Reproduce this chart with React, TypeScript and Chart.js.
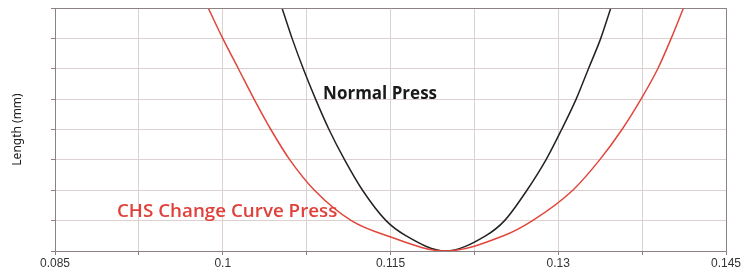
import React, { useEffect, useRef } from "react";
import { Chart, registerables } from "chart.js";

Chart.register(...registerables);

// Length levels (y values, mm, unlabeled gridline units)
const levels = [8, 7, 6, 5, 4, 3, 2, 1, 0.5, 0, 0.5, 1, 2, 3, 4, 5, 6, 7, 8];

// Normal Press curve x positions
const normalX = [0.1053, 0.1062, 0.1072, 0.1083, 0.1095, 0.1109, 0.1125, 0.1146, 0.1164, 0.1199, 0.1235, 0.1252, 0.1272, 0.1289, 0.1303, 0.1316, 0.1327, 0.1338, 0.1347];

// CHS Change Curve Press x positions
const chsX = [0.0987, 0.1, 0.1014, 0.1028, 0.1043, 0.106, 0.1082, 0.1115, 0.1147, 0.1199, 0.1251, 0.1277, 0.1313, 0.1337, 0.1357, 0.1374, 0.1389, 0.1401, 0.1412];

const xMin = 0.085;
const xMax = 0.145;
const xStep = 0.0075;
const xLabels = ["0.085", "0.1", "0.115", "0.13", "0.145"];
const yMin = 0;
const yMax = 8;

const labelNormal = { text: "Normal Press", x: 0.10897, y: 5.15 };
const labelChs = { text: "CHS Change Curve Press", x: 0.09054, y: 1.28 };

const AXIS = "#8c8282";
const GRID = "#ddd0d0";

const annotatePlugin = {
  id: "annotate",
  afterDatasetsDraw(chart: any) {
    const { ctx, chartArea, scales } = chart;
    ctx.save();
    ctx.strokeStyle = AXIS;
    ctx.lineWidth = 1;
    ctx.beginPath();
    ctx.moveTo(chartArea.left, chartArea.top + 0.5);
    ctx.lineTo(chartArea.right, chartArea.top + 0.5);
    ctx.moveTo(chartArea.right + 0.5, chartArea.top);
    ctx.lineTo(chartArea.right + 0.5, chartArea.bottom);
    ctx.stroke();
    ctx.textBaseline = "middle";
    ctx.textAlign = "left";
    ctx.fillStyle = "#1a1a1a";
    ctx.font = "bold 17px 'Open Sans'";
    ctx.fillText(labelNormal.text, scales.x.getPixelForValue(labelNormal.x), scales.y.getPixelForValue(labelNormal.y));
    ctx.fillStyle = "#e0403a";
    ctx.font = "600 18.8px 'Open Sans'";
    ctx.fillText(labelChs.text, scales.x.getPixelForValue(labelChs.x), scales.y.getPixelForValue(labelChs.y));
    ctx.restore();
  },
};

export default function App() {
  const ref = useRef<HTMLCanvasElement>(null);
  useEffect(() => {
    if (!ref.current) return;
    const chart = new Chart(ref.current, {
      type: "scatter",
      data: {
        datasets: [
          {
            label: "CHS Change Curve Press",
            data: chsX.map((x, i) => ({ x, y: levels[i] })),
            borderColor: "#e0463c",
            borderWidth: 1.5,
            pointRadius: 0,
            showLine: true,
            cubicInterpolationMode: "monotone",
          },
          {
            label: "Normal Press",
            data: normalX.map((x, i) => ({ x, y: levels[i] })),
            borderColor: "#222222",
            borderWidth: 1.5,
            pointRadius: 0,
            showLine: true,
            cubicInterpolationMode: "monotone",
          },
        ],
      },
      options: {
        responsive: false,
        animation: false,
        devicePixelRatio: 1,
        layout: { padding: { top: 8, right: 30, left: 0, bottom: 0 } },
        plugins: { legend: { display: false }, tooltip: { enabled: false } },
        scales: {
          x: {
            type: "linear",
            min: xMin,
            max: xMax,
            afterFit: (s: any) => { s.height = 21; },
            afterBuildTicks: (s: any) => {
              const t = [];
              for (let i = 0; i <= 8; i++) t.push({ value: xMin + i * xStep });
              s.ticks = t;
            },
            ticks: {
              autoSkip: false,
              maxRotation: 0,
              padding: 1,
              color: "#333333",
              font: { family: "'Liberation Sans', Arial", size: 12 },
              callback: (_v: any, i: number) => (i % 2 === 0 ? xLabels[i / 2] : ""),
            },
            grid: { color: GRID, tickColor: AXIS, tickLength: 4 },
            border: { color: AXIS, width: 1 },
          },
          y: {
            min: yMin,
            max: yMax,
            afterFit: (s: any) => { s.width = 55; },
            ticks: { stepSize: 1, callback: () => "", padding: 0 },
            grid: { color: GRID, tickColor: AXIS, tickLength: 4 },
            border: { color: AXIS, width: 1 },
            title: {
              display: true,
              text: "Length (mm)",
              color: "#222222",
              font: { family: "'Noto Sans'", size: 12 },
              padding: { top: 10, bottom: 0 },
            },
          },
        },
      },
      plugins: [annotatePlugin],
    } as any);
    return () => chart.destroy();
  }, []);
  return (
    <div style={{ position: "absolute", left: 0, top: 0, width: 756, height: 272, background: "#fff" }}>
      <canvas ref={ref} width={756} height={272} />
    </div>
  );
}
